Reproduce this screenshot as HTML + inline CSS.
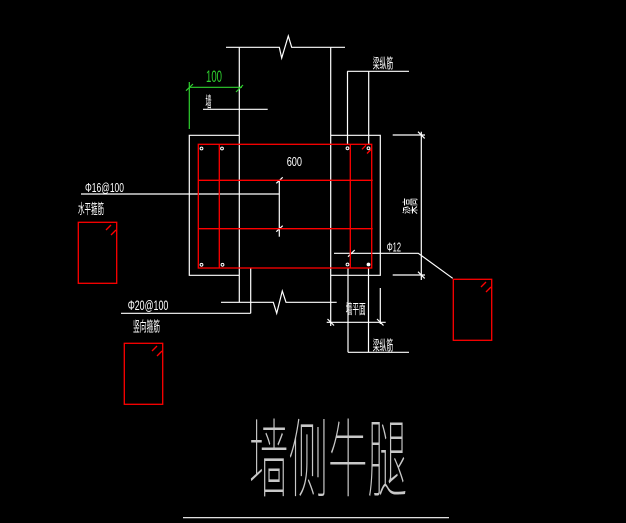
<!DOCTYPE html>
<html><head><meta charset="utf-8"><style>
html,body{margin:0;padding:0;background:#000;}
svg{display:block;}
text{font-family:"Liberation Sans","Noto Sans CJK SC",sans-serif;fill:#fff;}
</style></head><body>
<svg width="626" height="523" viewBox="0 0 626 523" xmlns="http://www.w3.org/2000/svg">
<rect width="626" height="523" fill="#000"/>
<g stroke="#fff" stroke-width="1.2" fill="none">
<path d="M226,47.3 H279.3 L281.7,58 L288.3,36 L291.7,47.3 H345"/>
<line x1="239.3" y1="47.3" x2="239.3" y2="302.3"/>
<line x1="330.7" y1="47.3" x2="330.7" y2="326"/>
<line x1="347.5" y1="71.3" x2="347.5" y2="144.3"/>
<line x1="368.7" y1="71.3" x2="368.7" y2="144.3"/>
<line x1="348" y1="268" x2="348" y2="352.3"/>
<line x1="368.5" y1="268" x2="368.5" y2="352.3"/>
<line x1="347.3" y1="71.3" x2="409" y2="71.3"/>
<line x1="348" y1="352.3" x2="409" y2="352.3"/>
<path d="M239.3,135.3 H189.3 V275.3 H239.3"/>
<path d="M330.7,135.3 H380.3 V275.3 H330.7"/>
<line x1="203" y1="109.3" x2="267.7" y2="109.3"/>
<line x1="81" y1="194" x2="279.3" y2="194"/>
<line x1="279.3" y1="180" x2="279.3" y2="236.7"/>
<line x1="276.3" y1="183.3" x2="282.7" y2="177.3"/>
<line x1="276.3" y1="231.7" x2="282.7" y2="225.7"/>
<path d="M334,253.3 H418.3 L452.7,278.3"/>
<line x1="348" y1="256.7" x2="354.7" y2="250"/>
<line x1="250.7" y1="268" x2="250.7" y2="313.3"/>
<line x1="121" y1="313.3" x2="250.7" y2="313.3"/>
<path d="M221,302.3 H273.3 L276.7,313.3 L282.3,291 L286,302.3 H336.7"/>
<line x1="380.3" y1="288" x2="380.3" y2="324"/>
<line x1="326.7" y1="322.3" x2="385.7" y2="322.3"/>
<line x1="327.5" y1="319" x2="334" y2="325.5"/>
<line x1="377" y1="319" x2="383.5" y2="325.5"/>
<line x1="421.3" y1="131.7" x2="421.3" y2="280"/>
<line x1="392.7" y1="135" x2="425" y2="135"/>
<line x1="392.7" y1="275" x2="425" y2="275"/>
<line x1="418" y1="131.7" x2="424.7" y2="138.4"/>
<line x1="418" y1="271.7" x2="424.7" y2="278.4"/>
<line x1="183" y1="517.7" x2="449" y2="517.7"/>
</g>
<g stroke="#2fd02f" stroke-width="1.2" fill="none">
<line x1="189.3" y1="87.3" x2="242" y2="87.3"/>
<line x1="189.3" y1="82" x2="189.3" y2="129"/>
<line x1="186" y1="90.7" x2="193" y2="84"/>
<line x1="236" y1="92" x2="243" y2="85"/>
</g>
<g stroke="#ff0000" stroke-width="1.3" fill="none">
<rect x="198.3" y="144.3" width="173.4" height="123.7"/>
<line x1="219.3" y1="144.3" x2="219.3" y2="268"/>
<line x1="350.3" y1="144.3" x2="350.3" y2="268"/>
<line x1="198.3" y1="180.3" x2="372.7" y2="180.3"/>
<line x1="198.3" y1="228.7" x2="372.7" y2="228.7"/>
<line x1="362" y1="149.3" x2="366" y2="145.3"/>
<line x1="367" y1="153.5" x2="371" y2="149.5"/>
<rect x="78.3" y="222.3" width="38.4" height="61"/>
<line x1="106" y1="230" x2="111" y2="225"/>
<line x1="111" y1="235" x2="116" y2="230"/>
<rect x="124.3" y="343.3" width="38.4" height="61"/>
<line x1="152" y1="351" x2="157" y2="346"/>
<line x1="157" y1="356" x2="162" y2="351"/>
<rect x="453.3" y="279.3" width="38.4" height="61"/>
<line x1="481" y1="287" x2="486" y2="282"/>
<line x1="486" y1="292" x2="491" y2="287"/>
</g>
<g stroke="#fff" stroke-width="1" fill="none">
<circle cx="201.5" cy="148.5" r="1.4"/>
<circle cx="222" cy="148.5" r="1.4"/>
<circle cx="347.5" cy="148.3" r="1.4"/>
<circle cx="368.5" cy="148.3" r="1.4"/>
<circle cx="201.5" cy="264.8" r="1.4"/>
<circle cx="222.5" cy="264.8" r="1.4"/>
<circle cx="347.5" cy="264.5" r="1.4"/>
<circle cx="368.5" cy="264.5" r="1.4" fill="#fff"/>
</g>
<text x="372.7" y="68.5" font-size="14" textLength="20.6" lengthAdjust="spacingAndGlyphs">梁纵筋</text>
<text x="206" y="82" font-size="17" textLength="16" lengthAdjust="spacingAndGlyphs" style="fill:#2fd02f">100</text>
<text x="205.5" y="107" font-size="15" textLength="6" lengthAdjust="spacingAndGlyphs">墙</text>
<text x="286.7" y="166" font-size="12.5" textLength="15.3" lengthAdjust="spacingAndGlyphs">600</text>
<text x="85" y="192" font-size="12.5" textLength="39" lengthAdjust="spacingAndGlyphs">Φ16@100</text>
<text x="78" y="214" font-size="14" textLength="26" lengthAdjust="spacingAndGlyphs">水平箍筋</text>
<text x="386.7" y="251.7" font-size="13" textLength="14.3" lengthAdjust="spacingAndGlyphs">Φ12</text>
<text transform="translate(416,214) rotate(-90)" x="0" y="0" font-size="16" textLength="16" lengthAdjust="spacingAndGlyphs">梁高</text>
<text x="127.7" y="310" font-size="14" textLength="40.6" lengthAdjust="spacingAndGlyphs">Φ20@100</text>
<text x="133" y="331.7" font-size="14" textLength="27" lengthAdjust="spacingAndGlyphs">竖向箍筋</text>
<text x="345.7" y="314" font-size="14" textLength="20" lengthAdjust="spacingAndGlyphs">墙平面</text>
<text x="372.7" y="350.7" font-size="14" textLength="20.6" lengthAdjust="spacingAndGlyphs">梁纵筋</text>
<text x="249" y="490" font-size="86" font-weight="100" textLength="158" lengthAdjust="spacingAndGlyphs" style="fill:#c8c8c8">墙侧牛腿</text>
</svg>
</body></html>
